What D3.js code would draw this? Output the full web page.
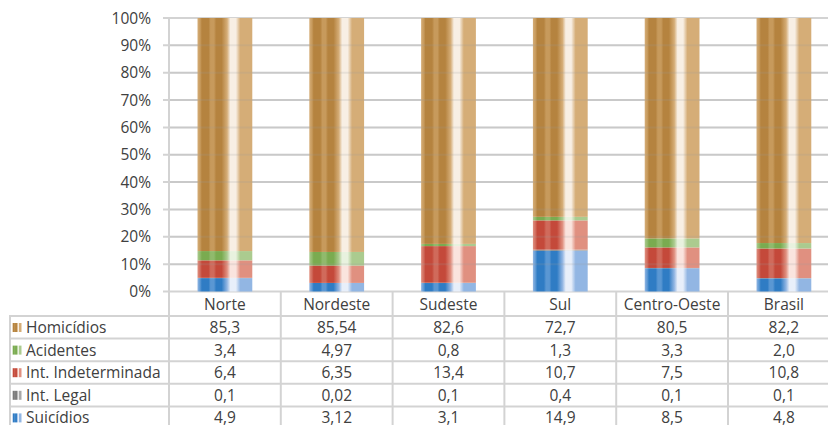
<!DOCTYPE html>
<html>
<head>
<meta charset="utf-8">
<script src="https://cdn.jsdelivr.net/npm/d3@7"></script>
<style>
  html, body { margin: 0; padding: 0; background: #fff; }
  svg { display: block; font-family: "Open Sans", "Noto Sans", sans-serif; }
</style>
</head>
<body>
<svg id="chart" width="828" height="425"></svg>
<script>
// Regions shown as columns of the table and as stacked bars
const categories = ["Norte", "Nordeste", "Sudeste", "Sul", "Centro-Oeste", "Brasil"];

// Series listed from the bottom of each stack to the top
const seriesNames = ["Suicídios", "Int. Legal", "Int. Indeterminada", "Acidentes", "Homicídios"];
const suicidios      = [4.9, 3.12, 3.1, 14.9, 8.5, 4.8];
const intLegal       = [0.1, 0.02, 0.1, 0.4, 0.1, 0.1];
const intIndeterm    = [6.4, 6.35, 13.4, 10.7, 7.5, 10.8];
const acidentes      = [3.4, 4.97, 0.8, 1.3, 3.3, 2.0];
const homicidios     = [85.3, 85.54, 82.6, 72.7, 80.5, 82.2];
const valueLabels = {
  "Homicídios": ["85,3", "85,54", "82,6", "72,7", "80,5", "82,2"],
  "Acidentes": ["3,4", "4,97", "0,8", "1,3", "3,3", "2,0"],
  "Int. Indeterminada": ["6,4", "6,35", "13,4", "10,7", "7,5", "10,8"],
  "Int. Legal": ["0,1", "0,02", "0,1", "0,4", "0,1", "0,1"],
  "Suicídios": ["4,9", "3,12", "3,1", "14,9", "8,5", "4,8"]
};
// Table rows from top to bottom
const tableRows = ["Homicídios", "Acidentes", "Int. Indeterminada", "Int. Legal", "Suicídios"];
const yTicks = [0, 0.1, 0.2, 0.3, 0.4, 0.5, 0.6, 0.7, 0.8, 0.9, 1.0];

// dark / mid / light shades used by each series' banded fill
const palette = {
  "Homicídios":         { dark: "#b5833f", mid: "#d5ad77", semi: "#c79a5c", light: "#f8efe4" },
  "Acidentes":          { dark: "#7aab50", mid: "#abcb8f", semi: "#90ba6c", light: "#e8f2df" },
  "Int. Indeterminada": { dark: "#c4493a", mid: "#e09080", semi: "#d06a5b", light: "#fae4de" },
  "Int. Legal":         { dark: "#7a7a7a", mid: "#a8a8a8", semi: "#909090", light: "#e6e6e6" },
  "Suicídios":          { dark: "#2f7cc4", mid: "#92b6e3", semi: "#5a97d3", light: "#e8effa" }
};
const seriesValues = {
  "Suicídios": suicidios, "Int. Legal": intLegal, "Int. Indeterminada": intIndeterm,
  "Acidentes": acidentes, "Homicídios": homicidios
};

const rows = categories.map((c, i) => {
  const r = { cat: c };
  seriesNames.forEach(s => r[s] = seriesValues[s][i]);
  return r;
});

const svg = d3.select("#chart");
const textColor = "#404040";
const lineColor = "#d3d3d3";
const fontSize = 15.5;

const plotLeft = 169, colW = 111.8;
const plotTop = 18, plotBottom = 291.5;
const tableLeft = 10;
const headerTop = 292, rowTop = 316, rowH = 22.6;

const x = d3.scaleBand().domain(categories)
  .range([plotLeft, plotLeft + colW * categories.length]).padding(0);
const y = d3.scaleLinear().domain([0, 1]).range([plotBottom, plotTop]);
const barW = x.bandwidth() * 0.49;

// gradients
const defs = svg.append("defs");
seriesNames.forEach((s, i) => {
  const p = palette[s];
  const g = defs.append("linearGradient").attr("id", "grad" + i)
    .attr("x1", 0).attr("x2", 1).attr("y1", 0).attr("y2", 0);
  const stops = [
    [0, p.mid], [0.05, p.semi], [0.08, p.dark], [0.2, p.dark], [0.24, p.semi],
    [0.3, p.semi], [0.34, p.dark], [0.44, p.dark], [0.54, p.mid], [0.6, p.light],
    [0.7, p.light], [0.78, p.mid], [0.88, p.mid], [1, p.mid]
  ];
  stops.forEach(([o, c]) => g.append("stop").attr("offset", o).attr("stop-color", c));
});

// gridlines
const grid = svg.append("g");
grid.selectAll("line").data(yTicks).join("line")
  .attr("x1", plotLeft - 6).attr("x2", 828)
  .attr("y1", d => y(d)).attr("y2", d => y(d))
  .attr("stroke", lineColor).attr("stroke-width", 2);

// stacked bars, normalised to 100%
const stack = d3.stack().keys(seriesNames).offset(d3.stackOffsetExpand);
const layers = stack(rows);
svg.append("g").selectAll("g").data(layers).join("g")
  .attr("fill", (d, i) => `url(#grad${i})`)
  .selectAll("rect").data(d => d).join("rect")
  .attr("x", d => x(d.data.cat) + (x.bandwidth() - barW) / 2)
  .attr("width", barW)
  .attr("y", d => y(d[1]))
  .attr("height", d => y(d[0]) - y(d[1]));

// faint gridlines showing through the bars
svg.append("g").selectAll("line").data(yTicks.filter(d => d > 0 && d < 1)).join("line")
  .attr("x1", plotLeft).attr("x2", 828)
  .attr("y1", d => y(d)).attr("y2", d => y(d))
  .attr("stroke", "#999").attr("stroke-opacity", 0.18).attr("stroke-width", 2);

// y axis line
svg.append("line").attr("x1", plotLeft).attr("x2", plotLeft)
  .attr("y1", plotTop - 1).attr("y2", 425)
  .attr("stroke", lineColor).attr("stroke-width", 2);

// y tick labels
svg.append("g").selectAll("text").data(yTicks).join("text")
  .attr("x", 151).attr("y", d => y(d) + 5.5)
  .attr("text-anchor", "end").attr("fill", textColor).attr("font-size", fontSize)
  .text(d => Math.round(d * 100) + "%");

// data table
const tbl = svg.append("g");
// vertical separators between category columns
tbl.selectAll("line.v").data(categories.slice(1)).join("line").attr("class", "v")
  .attr("x1", d => x(d)).attr("x2", d => x(d))
  .attr("y1", headerTop).attr("y2", 425)
  .attr("stroke", lineColor).attr("stroke-width", 2);
// left border
tbl.append("line").attr("x1", tableLeft).attr("x2", tableLeft)
  .attr("y1", rowTop).attr("y2", 425)
  .attr("stroke", lineColor).attr("stroke-width", 2);
// row separators
tbl.selectAll("line.h").data(d3.range(tableRows.length)).join("line").attr("class", "h")
  .attr("x1", tableLeft - 1).attr("x2", 828)
  .attr("y1", i => rowTop + i * rowH).attr("y2", i => rowTop + i * rowH)
  .attr("stroke", lineColor).attr("stroke-width", 2);

// category headers
tbl.selectAll("text.cat").data(categories).join("text").attr("class", "cat")
  .attr("x", d => x(d) + x.bandwidth() / 2).attr("y", headerTop + 17.5)
  .attr("text-anchor", "middle").attr("fill", textColor).attr("font-size", fontSize)
  .text(d => d);

// row labels with small legend keys
const rowG = tbl.selectAll("g.row").data(tableRows).join("g").attr("class", "row")
  .attr("transform", (d, i) => `translate(0,${rowTop + i * rowH})`);
rowG.append("rect")
  .attr("x", 12.5).attr("y", 7).attr("width", 9).attr("height", 9)
  .attr("fill", d => `url(#grad${seriesNames.indexOf(d)})`);
rowG.append("text")
  .attr("x", 26).attr("y", 17)
  .attr("fill", textColor).attr("font-size", fontSize)
  .text(d => d);
rowG.selectAll("text.val").data(s => valueLabels[s].map((v, i) => ({ v, cat: categories[i] })))
  .join("text").attr("class", "val")
  .attr("x", d => x(d.cat) + x.bandwidth() / 2).attr("y", 17)
  .attr("text-anchor", "middle").attr("fill", textColor).attr("font-size", fontSize)
  .text(d => d.v);
</script>
</body>
</html>
